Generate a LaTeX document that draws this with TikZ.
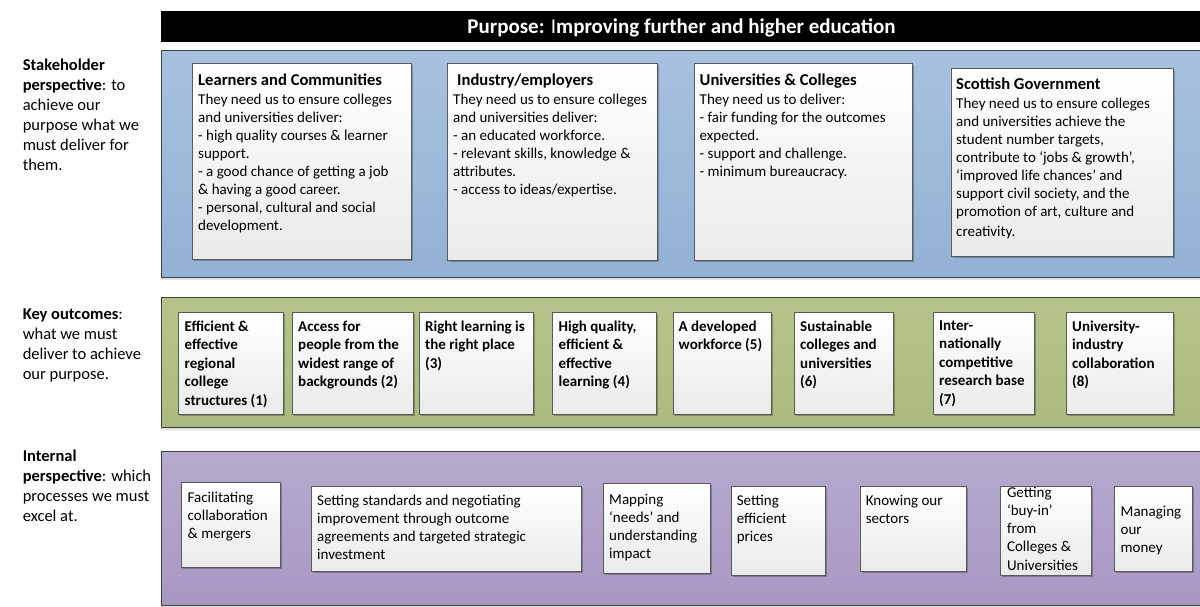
\documentclass[tikz,border=0pt]{standalone}
\usepackage{fontspec}
\setmainfont{Carlito}
\usetikzlibrary{shadows}

\definecolor{panelblueT}{HTML}{A7C2DF}
\definecolor{panelblueB}{HTML}{92B1D4}
\definecolor{panelgreenT}{HTML}{B5C48A}
\definecolor{panelgreenB}{HTML}{ABBA7D}
\definecolor{panelpurpleT}{HTML}{B6AACE}
\definecolor{panelpurpleB}{HTML}{A798C3}
\definecolor{paneledge}{HTML}{404040}
\definecolor{cardedge}{HTML}{5A5A5A}
\definecolor{cardbottom}{HTML}{EAEAEA}

\tikzset{
  panel/.style={draw=paneledge, line width=0.9pt, anchor=north west, inner sep=0pt,
    drop shadow={shadow xshift=0pt, shadow yshift=-2.5pt, opacity=0.12, fill=black}},
  card/.style={draw=cardedge, line width=0.9pt, top color=white, bottom color=cardbottom,
    anchor=north west, inner sep=0pt,
    drop shadow={shadow xshift=2pt, shadow yshift=-2pt, opacity=0.25, fill=black}},
  cardtext/.style={anchor=north west, inner sep=0pt, align=left, yshift=-2.5pt,
    font=\fontsize{15}{18}\selectfont, execute at begin node=\strut},
  goaltext/.style={anchor=north west, inner sep=0pt, align=left, yshift=-2.5pt,
    font=\fontsize{15}{18.5}\selectfont\bfseries, execute at begin node=\strut},
  sidetext/.style={anchor=north west, inner sep=0pt, align=left, yshift=-2.5pt,
    font=\fontsize{16.5}{20}\selectfont, execute at begin node=\strut},
}

% heading line inside a stakeholder card
\newcommand\cardtitle[1]{{\fontsize{16.6}{19}\selectfont\bfseries #1}}

% box with top-left corner (#2,#3) and bottom-right corner (#4,#5)
\newcommand\panelat[6]{\node[panel, top color=#6T, bottom color=#6B,
  minimum width={(#4-#2)*1pt}, minimum height={(#5-#3)*1pt}] (#1) at (#2,#3) {};}
\newcommand\cardat[5]{\node[card,
  minimum width={(#4-#2)*1pt}, minimum height={(#5-#3)*1pt}] (#1) at (#2,#3) {};}

\begin{document}
\begin{tikzpicture}[x=1pt,y=-1pt]
\useasboundingbox (0,0) rectangle (1200,607);

% purpose bar
\node[fill=black, anchor=north west, inner sep=0pt, minimum width=1045pt, minimum height=31pt]
  (purpose) at (161,11) {};
\node[text=white, font=\fontsize{21}{24}\selectfont\bfseries, inner sep=0pt]
  (purposeT) at (681.5,27.5) {Purpose: {\mdseries I}mproving further and higher education};

% ---------- stakeholder perspective ----------
\panelat{stake}{161}{50}{1205}{277}{panelblue}
\node[sidetext] (stakeL) at (22.6,56.5)
  {\textbf{Stakeholder}\\\textbf{perspective}: to\\achieve our\\purpose what we\\must deliver for\\them.};

\cardat{learners}{192}{63}{411}{259}
\node[cardtext] (learnersT) at (198,71.4)
  {\cardtitle{Learners and Communities}\\[1pt]They need us to ensure colleges\\and universities deliver:\\
   - high quality courses \& learner\\support.\\- a good chance of getting a job\\
   \& having a good career.\\- personal, cultural and social\\development.};

\cardat{industry}{447}{63}{657}{260}
\node[cardtext] (industryT) at (453,71.4)
  {\hspace{4pt}\cardtitle{Industry/employers}\\[1pt]They need us to ensure colleges\\and universities deliver:\\
   - an educated workforce.\\- relevant skills, knowledge \&\\attributes.\\- access to ideas/expertise.};

\cardat{unis}{694}{63}{912}{260}
\node[cardtext] (unisT) at (699.5,71.4)
  {\cardtitle{Universities \& Colleges}\\[1pt]They need us to deliver:\\- fair funding for the outcomes\\
   expected.\\- support and challenge.\\- minimum bureaucracy.};

\cardat{scotgov}{950.5}{68}{1173}{256}
\node[cardtext] (scotgovT) at (956,75.4)
  {\cardtitle{Scottish Government}\\[1pt]They need us to ensure colleges\\and universities achieve the\\
   student number targets,\\contribute to ‘jobs \& growth’,\\‘improved life chances’ and\\
   support civil society, and the\\promotion of art, culture and\\[2pt]creativity.};

% ---------- key outcomes ----------
\panelat{outcomes}{161}{297}{1205}{427}{panelgreen}
\node[sidetext] (outcomesL) at (22.6,306.5)
  {\textbf{Key outcomes}:\\what we must\\deliver to achieve\\our purpose.};

\cardat{o1}{178}{312}{283}{414}
\node[goaltext] (o1T) at (184.5,318) {Efficient \&\\effective\\regional\\college\\structures (1)};
\cardat{o2}{292}{312}{412.5}{414}
\node[goaltext] (o2T) at (298,318) {Access for\\people from the\\widest range of\\backgrounds (2)};
\cardat{o3}{419}{312}{533}{414}
\node[goaltext] (o3T) at (425,318) {Right learning is\\the right place\\(3)};
\cardat{o4}{552}{312}{655.5}{414}
\node[goaltext] (o4T) at (558.5,318) {High quality,\\efficient \&\\effective\\learning (4)};
\cardat{o5}{673}{312}{771}{414}
\node[goaltext] (o5T) at (678.5,318) {A developed\\workforce (5)};
\cardat{o6}{794}{312}{893}{414}
\node[goaltext] (o6T) at (800,318) {Sustainable\\colleges and\\universities\\(6)};
\cardat{o7}{933}{312}{1034}{414}
\node[goaltext] (o7T) at (939,318) {Inter-\\nationally\\competitive\\research base\\(7)};
\cardat{o8}{1066}{312}{1173}{414}
\node[goaltext] (o8T) at (1072,318) {University-\\industry\\collaboration\\(8)};

% ---------- internal perspective ----------
\panelat{internal}{161}{451}{1205}{605}{panelpurple}
\node[sidetext] (internalL) at (22.6,447.5)
  {\textbf{Internal}\\\textbf{perspective}: which\\processes we must\\excel at.};

\cardat{p1}{181}{482}{280}{567}
\node[cardtext] (p1T) at (187.5,489.4) {Facilitating\\collaboration\\\& mergers};
\cardat{p2}{311}{486}{581}{571}
\node[cardtext] (p2T) at (317,492.4)
  {Setting standards and negotiating\\improvement through outcome\\agreements and targeted strategic\\investment};
\cardat{p3}{603}{483}{709.5}{573}
\node[cardtext] (p3T) at (609,491.4) {Mapping\\‘needs’ and\\understanding\\impact};
\cardat{p4}{731}{486}{825}{575}
\node[cardtext] (p4T) at (736.6,492.4) {Setting\\efficient\\prices};
\cardat{p5}{859.5}{486}{966}{571}
\node[cardtext] (p5T) at (865.6,492.4) {Knowing our\\sectors};
\cardat{p6}{1000}{486}{1091}{575}
\node[cardtext] (p6T) at (1006.8,484.4) {Getting\\‘buy-in’\\from\\Colleges \&\\[1.5pt]Universities};
\cardat{p7}{1114}{486}{1192}{571}
\node[cardtext] (p7T) at (1120.5,503.4) {Managing\\our\\money};

\end{tikzpicture}
\end{document}
